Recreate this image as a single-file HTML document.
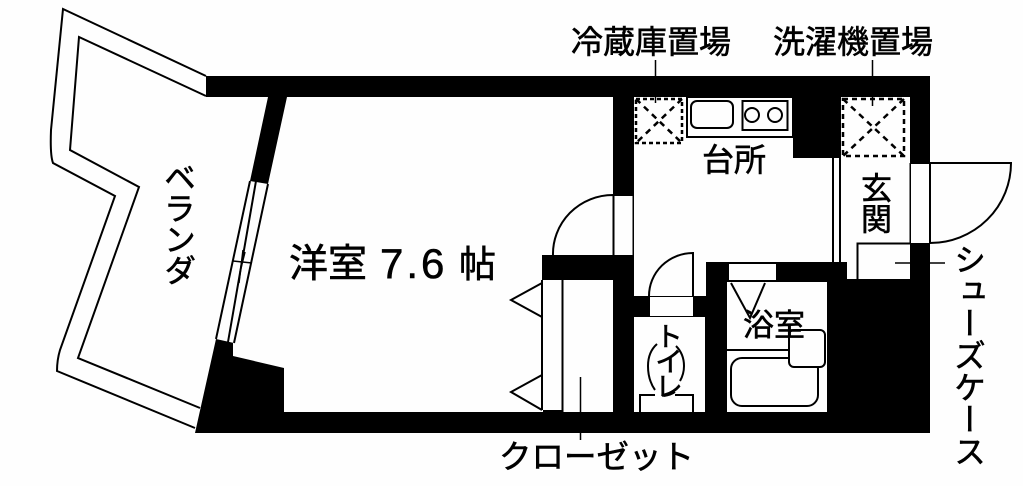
<!DOCTYPE html>
<html><head><meta charset="utf-8">
<style>
html,body{margin:0;padding:0;background:#fefefe;width:1023px;height:486px;overflow:hidden}
svg{position:absolute;left:0;top:0}
.t{position:absolute;font-family:"Liberation Sans","Noto Sans CJK JP",sans-serif;color:#000;white-space:nowrap;line-height:1;-webkit-text-stroke:0.6px #000}
.v{writing-mode:vertical-rl;text-orientation:upright}
</style></head><body>
<svg width="1023" height="486" viewBox="0 0 1023 486">
<rect width="1023" height="486" fill="#fefefe"/>
<!-- balcony -->
<path d="M206 76L63 9L51 130Q50 155 53 163L115 196L60 350Q57 360 57 371L195 428" fill="none" stroke="#000" stroke-width="2"/>
<path d="M206 96L79 37L70 150L139 187L78 358L200 408" fill="none" stroke="#000" stroke-width="2"/>
<!-- black mass -->
<path d="M206 76H930V433H195L216 339L250 181L268 97H206Z" fill="#000"/>
<!-- western room -->
<path d="M287 97H613V196H634V255H542V412H284V368L233 356V343L268 184Z" fill="#fefefe"/>
<path d="M216 339L250 181L268 184L234 343Z" fill="#fefefe"/>
<path d="M250 181L216 339M256 181L228 342M268 184L234 343" stroke="#000" stroke-width="2" fill="none"/>
<path d="M233 261L252 263M239 283L243 250M245 252L240 272" stroke="#000" stroke-width="1.5" fill="none"/>
<rect x="613" y="97" width="21" height="99" fill="#000"/>
<rect x="542" y="256" width="92" height="24" fill="#000"/>
<rect x="563" y="278" width="50" height="2" fill="#000"/>
<rect x="613" y="256" width="21" height="156" fill="#000"/>
<!-- door opening west room -->
<rect x="614" y="197" width="19" height="58" fill="#fefefe"/>
<path d="M613.5 196V255M553 256A60 59 0 0 1 613 195" fill="none" stroke="#000" stroke-width="2"/>
<path d="M633.5 196V256" stroke="#000" stroke-width="2"/>
<!-- closet -->
<rect x="542" y="280" width="71" height="132" fill="#fefefe"/>
<rect x="543" y="410" width="20" height="3" fill="#000"/>
<path d="M542 280V410M562.5 280V412" stroke="#000" stroke-width="2" fill="none"/>
<path d="M542 283L511 300L542 317M542 375L511 392L542 410" fill="none" stroke="#000" stroke-width="2"/>
<path d="M580.5 377V412M580.5 433V440" stroke="#000" stroke-width="1.5"/>
<!-- kitchen -->
<path d="M634 97H793V158H834V262H706V296H634Z" fill="#fefefe"/>
<rect x="833" y="158" width="8" height="104" fill="#fefefe"/>
<path d="M833 158V262M840 158V262" stroke="#000" stroke-width="2"/>
<rect x="687" y="97" width="106" height="40" fill="none" stroke="#000" stroke-width="2"/>
<rect x="691" y="101" width="42" height="27" rx="6" fill="none" stroke="#000" stroke-width="2"/>
<rect x="742.5" y="101" width="45" height="29" fill="none" stroke="#000" stroke-width="2"/>
<circle cx="752" cy="115" r="7" fill="none" stroke="#000" stroke-width="2"/>
<circle cx="775" cy="115" r="7" fill="none" stroke="#000" stroke-width="2"/>
<rect x="636" y="99" width="46" height="44" fill="none" stroke="#000" stroke-width="2.5" stroke-dasharray="4 3"/>
<path d="M636 99L682 143M682 99L636 143" stroke="#000" stroke-width="2.5" stroke-dasharray="6 5"/>
<path d="M655.5 97V103" stroke="#000" stroke-width="1.5"/>
<!-- entry -->
<rect x="841" y="97" width="69" height="182" fill="#fefefe"/>
<rect x="820" y="262" width="27" height="17" fill="#000"/>
<rect x="843" y="99" width="61" height="57" fill="none" stroke="#000" stroke-width="2.5" stroke-dasharray="5 4"/>
<path d="M843 99L904 156M904 99L843 156" stroke="#000" stroke-width="2.5" stroke-dasharray="6 5"/>
<path d="M872.5 97V106" stroke="#000" stroke-width="1.5"/>
<rect x="910" y="97" width="20" height="66" fill="#000"/>
<rect x="911" y="164" width="18" height="79" fill="#fefefe"/>
<path d="M930 163H1011A81 80 0 0 1 930 243V163" fill="#fefefe" stroke="#000" stroke-width="2"/>
<path d="M910 163H930" stroke="#000" stroke-width="2"/>
<path d="M910 163V243" stroke="#000" stroke-width="1"/>
<rect x="910" y="243" width="20" height="36" fill="#000"/>
<path d="M857.5 279V243.5H910" fill="none" stroke="#000" stroke-width="2"/>
<path d="M895 263H945" stroke="#000" stroke-width="1.5"/>
<!-- toilet door -->
<rect x="634" y="296" width="71" height="21" fill="#000"/>
<rect x="650" y="297" width="43" height="19" fill="#fefefe"/>
<path d="M649 296A44 43 0 0 1 693 253V296" fill="none" stroke="#000" stroke-width="2"/>
<!-- toilet -->
<rect x="634" y="317" width="71" height="95" fill="#fefefe"/>
<path d="M655 395H640V412M675 395H693V412" fill="none" stroke="#000" stroke-width="2"/>
<path d="M657 344Q648 352 648 366Q648 380 655 390M676 346Q684 354 684 366Q684 374 680 381M675 392Q671 395 664 396" fill="none" stroke="#000" stroke-width="2"/>
<!-- bath -->
<rect x="727" y="282" width="100" height="130" fill="#fefefe"/>
<rect x="729" y="264" width="47" height="16" fill="#fefefe"/>
<path d="M731 283L750 318L765 283" fill="none" stroke="#000" stroke-width="2"/>
<path d="M727 350H790" stroke="#000" stroke-width="2"/>
<rect x="731" y="358" width="87" height="48" rx="11" fill="none" stroke="#000" stroke-width="2"/>
<rect x="789" y="330" width="36" height="37" rx="5" fill="#fefefe" stroke="#000" stroke-width="2"/>
<path d="M655.5 60V76M872.5 60V76" stroke="#000" stroke-width="1.5"/>
</svg>
<div class="t" style="left:571px;top:26px;font-size:32px">冷蔵庫置場</div>
<div class="t" style="left:773px;top:26px;font-size:32px">洗濯機置場</div>
<div class="t" style="left:702px;top:144px;font-size:32px">台所</div>
<div class="t v" style="left:858px;top:172px;font-size:31px">玄関</div>
<div class="t" style="left:289px;top:245px;font-size:39px">洋室</div>
<div class="t" style="left:380px;top:243px;font-size:42px;letter-spacing:3px">7.6</div>
<div class="t" style="left:459px;top:246px;font-size:37px">帖</div>
<div class="t" style="left:743px;top:310px;font-size:31px">浴室</div>
<div class="t v" style="left:162px;top:161px;font-size:32px;letter-spacing:-1px">ベランダ</div>
<div class="t v" style="left:952px;top:243px;font-size:32px">シューズケース</div>
<div class="t" style="left:499px;top:441px;font-size:32.5px">クローゼット</div>
<div class="t v" style="left:653px;top:322px;font-size:28px;letter-spacing:-3px">トイレ</div>
</body></html>
